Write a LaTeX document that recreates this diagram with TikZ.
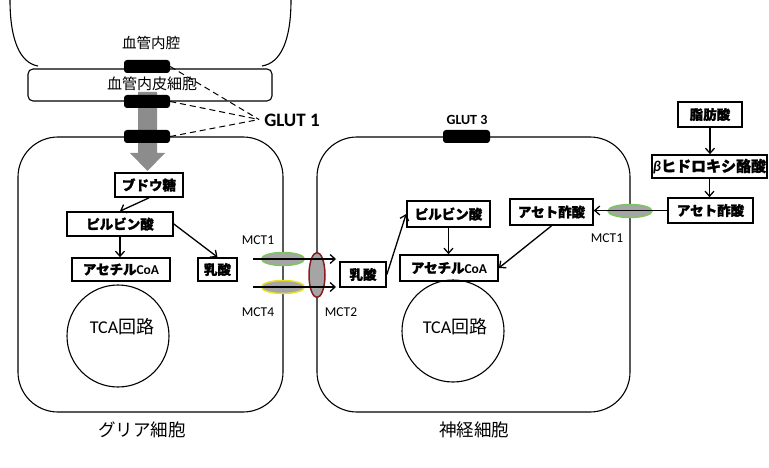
\documentclass[tikz,border=0pt]{standalone}
\usepackage{fontspec}
\setmainfont{Carlito}
\newfontfamily\cjk{Noto Sans CJK JP}
\newfontfamily\cjkheavy[BoldFeatures={FakeBold=1.3}]{Noto Sans CJK JP}
\usetikzlibrary{arrows.meta,calc,shapes.geometric}
\definecolor{mctgreen}{HTML}{7DC462}
\definecolor{mctyellow}{HTML}{E8E020}
\definecolor{mctred}{HTML}{8B1C1C}
\definecolor{mctgray}{HTML}{A5A5A5}
\definecolor{arrowgray}{HTML}{8C8C8C}
\begin{document}
\begin{tikzpicture}[x=1pt,y=-1pt,
  cellline/.style={line width=1.1pt, rounded corners=40pt},
  box/.style={draw, line width=1.7pt, inner sep=0pt, font=\cjkheavy\bfseries\fontsize{13.5}{15}\selectfont},
  arr/.style={line width=1.3pt, -{Straight Barb[length=5pt,width=9pt]}},
  glut/.style={fill=black, rounded corners=3pt, minimum width=46pt, minimum height=13pt, inner sep=0pt},
  lbl/.style={font=\cjk\fontsize{14.5}{16}\selectfont, inner sep=0pt},
  mctlbl/.style={font=\fontsize{13.5}{15}\selectfont, inner sep=0pt},
  mctell/.style={ellipse, fill=mctgray, line width=1.5pt, inner sep=0pt},
  tcacircle/.style={circle, draw, line width=1.1pt, minimum size=102pt, inner sep=0pt},
  dash1/.style={dash pattern=on 6pt off 4pt, line width=1pt}]
\useasboundingbox (0,0) rectangle (769,468);

% blood vessel lumen
\draw[line width=1.1pt] (10,0) .. controls (10,40) and (20,63) .. (38,66);
\draw[line width=1.1pt] (291,0) .. controls (291,40) and (281,63) .. (262,66);

% endothelial cell
\draw[line width=1.1pt, rounded corners=5pt, fill=white] (28,69) rectangle (272,101);

% cells
\draw[cellline] (18,137) rectangle (283,412);
\draw[cellline] (317,137) rectangle (630,412);

% glucose transport arrow
\fill[arrowgray] (138,92) -- (157,92) -- (157,153) -- (165,153) -- (147.5,171) -- (130,153) -- (138,153) -- cycle;

% GLUT boxes
\node[glut] (g1) at (147,66.5) {};
\node[glut] (g2) at (147,101.5) {};
\node[glut] (g3) at (147,136.5) {};
\node[glut, minimum width=47pt] (g4) at (466.5,136.5) {};

% labels
\node[lbl] (lumen) at (151,43) {血管内腔};
\node[lbl, font=\cjk\fontsize{15}{16}\selectfont] (endo) at (152,84) {血管内皮細胞};
\node[font=\bfseries\fontsize{19}{20}\selectfont, inner sep=0pt] (glut1) at (292,120) {GLUT 1};
\node[font=\bfseries\fontsize{14}{16}\selectfont, inner sep=0pt] (glut3) at (467,120) {GLUT 3};
\node[lbl, font=\cjk\fontsize{17.5}{19}\selectfont] (glia) at (142,430) {グリア細胞};
\node[lbl, font=\cjk\fontsize{17.5}{19}\selectfont] (neuron) at (474,430) {神経細胞};

% dashed GLUT1 pointers
\coordinate (gj) at (259,119.5);
\draw[dash1] (g1.east) -- (gj);
\draw[dash1] (g2.east) -- (gj);
\draw[dash1] (g3.east) -- (gj);

% TCA circles
\node[tcacircle] (tca1) at (118,336) {};
\node[tcacircle] (tca2) at (453,331) {};
\node[inner sep=0pt, font=\fontsize{18}{20}\selectfont] (tcat1) at (122,327) {TCA{\cjk 回路}};
\node[inner sep=0pt, font=\fontsize{18}{20}\selectfont] (tcat2) at (455,327) {TCA{\cjk 回路}};

% glia boxes
\node[box, minimum width=68pt, minimum height=24pt] (bud) at (149,185) {ブドウ糖};
\node[box, minimum width=106pt, minimum height=24pt] (pyr1) at (120,224) {ピルビン酸};
\node[box, minimum width=98pt, minimum height=23pt] (acoa1) at (121,269.5) {アセチル{\fontspec{Carlito}\bfseries CoA}};
\node[box, minimum width=39pt, minimum height=23pt] (lac1) at (217.5,269.5) {乳酸};

% neuron boxes
\node[box, minimum width=46pt, minimum height=25pt] (lac2) at (363,274.5) {乳酸};
\node[box, minimum width=83pt, minimum height=26pt] (pyr2) at (448.5,214) {ピルビン酸};
\node[box, minimum width=83pt, minimum height=26pt] (aceto2) at (551.5,212) {アセト酢酸};
\node[box, minimum width=98pt, minimum height=26pt] (acoa2) at (449,268) {アセチル{\fontspec{Carlito}\bfseries CoA}};

% outer boxes
\node[box, minimum width=64pt, minimum height=25pt] (fat) at (710,114.5) {脂肪酸};
\node[box, minimum width=115pt, minimum height=23pt, font=\cjkheavy\bfseries\fontsize{15}{16}\selectfont] (bhb) at (709.5,166.5) {{\fontspec{Carlito}\bfseries\itshape β}ヒドロキシ酪酸};
\node[box, minimum width=85pt, minimum height=25pt] (aceto3) at (710.5,210.5) {アセト酢酸};

% arrows in glia
\draw[arr] (bud.south) -- (pyr1.north);
\draw[arr] (pyr1.south) -- (pyr1.south |- acoa1.north);
\draw[arr] (pyr1.east) -- (lac1.north);

% arrows in neuron
\draw[arr] (lac2.east) -- (pyr2.west);
\draw[arr] (pyr2.south) -- (pyr2.south |- acoa2.north);
\draw[arr] (aceto2.south) -- (acoa2.east);

% outer arrows
\draw[arr] (fat.south) -- (fat.south |- bhb.north);
\draw[arr] (bhb.south) -- (bhb.south |- aceto3.north);

% transporters
\node[mctell, draw=mctgreen, minimum width=43pt, minimum height=13pt] (mct1g) at (283,259) {};
\node[mctell, draw=mctyellow, minimum width=43pt, minimum height=13pt] (mct4) at (283,287) {};
\node[mctell, draw=mctred, minimum width=16pt, minimum height=45pt] (mct2) at (317,275) {};
\node[mctell, draw=mctgreen, minimum width=44pt, minimum height=13pt] (mct1n) at (630,211) {};

% transport lines
\coordinate (l1s) at (253,259);
\coordinate (l1e) at (336,259);
\coordinate (l2s) at (253,287);
\coordinate (l2e) at (336,287);
\draw[arr] (l1s) -- (l1e);
\draw[arr] (l2s) -- (l2e);
\draw[arr] (aceto3.west) -- (aceto3.west -| aceto2.east);

% MCT labels
\node[mctlbl] (t1) at (258,240) {MCT1};
\node[mctlbl] (t4) at (258,312) {MCT4};
\node[mctlbl] (t2) at (341,312) {MCT2};
\node[mctlbl] (t1n) at (607,238) {MCT1};
\end{tikzpicture}
\end{document}
